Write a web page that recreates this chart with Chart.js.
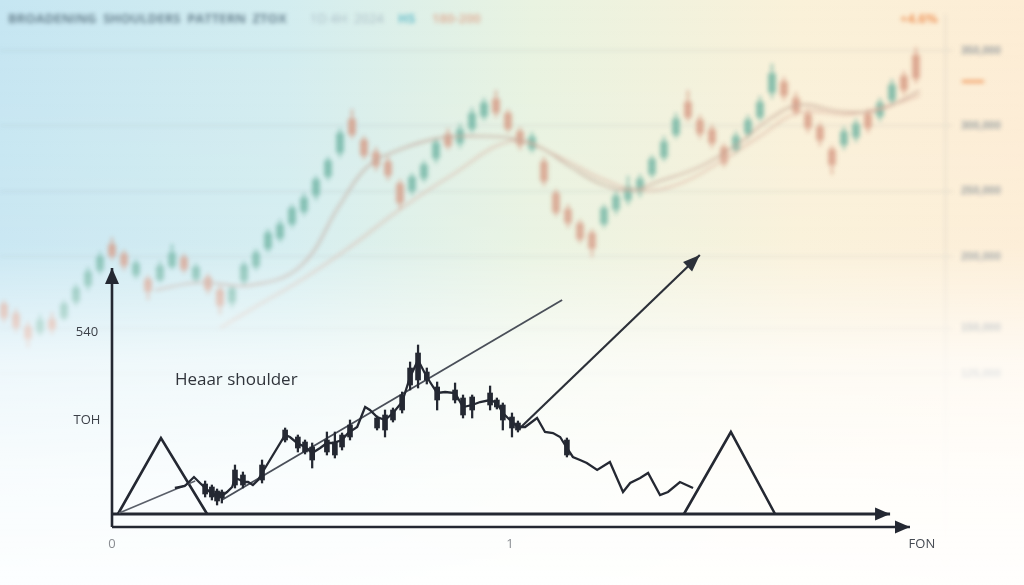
<!DOCTYPE html>
<html>
<head>
<meta charset="utf-8">
<title>Head and shoulder</title>
<script src="https://cdn.jsdelivr.net/npm/chart.js@4.4.1/dist/chart.umd.min.js"></script>
<style>
    html, body { margin: 0; padding: 0; }
    body {
        width: 1024px; height: 585px; overflow: hidden; position: relative;
        font-family: "Open Sans", "Noto Sans", sans-serif;
        background: linear-gradient(90deg, #c6e6f2 0%, #d3edf0 28%, #e9f3e1 52%, #faf1d9 78%, #fdedd5 100%);
    }
    canvas { position: absolute; left: 0; top: 0; }
    #bg { filter: blur(2.2px); opacity: 0.78; }
    #fade {
        position: absolute; left: 0; top: 0; width: 1024px; height: 585px;
        background: linear-gradient(180deg, rgba(255,255,255,0) 0%, rgba(255,255,255,0.08) 42%,
            rgba(255,255,255,0.7) 62%, rgba(255,255,255,0.88) 82%, rgba(255,255,255,0.95) 100%);
    }
    .blur { position: absolute; top: 9px; filter: blur(2px); font-weight: 700; font-size: 13px; white-space: nowrap; }
</style>
</head>
<body>
<canvas id="bg" width="1024" height="585"></canvas>
<div id="fade"></div>
<div class="blur" style="left:8px;color:#6d8794;">BROADENING&nbsp; SHOULDERS&nbsp; PATTERN&nbsp; ZTOX</div>
<div class="blur" style="left:310px;color:#a9bcc4;font-weight:400;">1D 4H&nbsp; 2024</div>
<div class="blur" style="left:398px;color:#6cc0cc;">HS</div>
<div class="blur" style="left:432px;color:#e0b9a4;">180-200</div>
<div class="blur" style="left:900px;color:#f09a62;">+4.6%</div>
<div class="blur" style="left:962px;top:80px;width:22px;height:3px;background:#f2a46e;"></div>
<canvas id="fg" width="1024" height="585"></canvas>
<script>
// background chart (blurred candles), index units / price units
const bgOpen  = [95,85,71,66,79,81,98,115,131,158,148,126,121,121,135,144,122,123,110,97,120,135,154,165,180,193,210,230,255,290,268,255,245,222,215,228,249,274,265,280,293,311,296,277,259,245,212,195,180,170,180,195,205,213,232,250,274,308,289,279,260,258,275,292,318,329,312,295,282,258,263,271,295,293,310,335,357];
const bgClose = [81,71,59,78,69,95,112,129,145,146,136,138,109,135,149,132,134,111,94,111,136,149,170,179,196,207,226,246,275,274,252,241,231,202,229,242,265,262,279,296,307,297,280,263,271,225,192,181,164,154,196,209,219,227,248,266,290,292,275,265,244,272,289,308,338,315,298,281,268,242,277,285,281,307,326,321,333];
const bgLow   = [76,66,50,62,64,78,94,110,127,142,131,122,100,118,132,128,118,106,85,92,116,131,150,161,176,189,205,226,250,270,248,236,226,196,210,224,244,258,260,276,289,292,276,258,255,220,188,176,160,145,176,190,200,208,228,246,270,288,270,260,240,254,270,288,312,310,294,276,262,232,258,266,276,288,305,316,328];
const bgHigh  = [99,90,76,84,86,99,116,134,150,165,152,142,125,140,158,148,138,127,114,115,140,153,174,184,200,212,230,250,280,300,272,260,250,226,233,246,270,280,285,302,312,320,300,281,276,250,216,200,184,174,200,214,230,232,252,272,296,320,294,284,264,277,294,314,348,334,318,300,286,262,282,290,300,312,332,340,365];
const ma1X = [12.6,16.3,20.5,24.7,28,30.3,33,36.3,39.7,42.2,44.7,47.2,49.7,52.2,54.7,58,61.3,63.8,66.3,69.7,73,76.3];
const ma1Y = [110,118,115,135,200,240,258,270,272,270,260,240,222,215,225,240,265,290,305,298,300,320];
const ma2X = [18,21.3,24.7,28.8,33,37.2,42.4,46.3,49.7,53,56.3,59.7,63,66.3,70.5,74.7,76.3];
const ma2Y = [70,95,120,155,195,230,267,250,228,215,222,245,272,297,295,308,315];
const bgTickValues = [362, 283, 214, 145, 70, 22];
const bgTickLabels = ['350,000', '300,000', '250,000', '200,000', '150,000', '125,000'];

// foreground pattern chart (x: 100 = label "1")
const priceX = [15.8,17.1,18.3,20.6,22.1,23.4,24.6,25.9,26.6,27.9,28.9,30.2,30.9,32.2,32.9,34.2,35.4,36.7,37.7,43.5,44.7,46.5,48.5,50.3,52.3,54.0,55.5,57.8,59.3,61.6,63.6,64.8,66.6,68.6,70.6,72.9,74.9,76.9,79.1,81.7,83.7,86.2,88.2,90.5,92.5,95.0,96.7,98.2,100.5,102.0,103.8,106.8,108.8,110.8,112.6,114.3,115.8,117.6,119.3,121.9,125.1,128.4,130.2,132.7,134.7,137.7,139.7,142.7,146.0];
const priceY = [26,27,28,37,31,26,22,19,16,19,22,27,36,34,32,32,29,34,41,79,77,71,67,61,66,71,71,74,81,87,107,104,97,94,101,112,137,154,137,121,122,121,107,109,112,114,111,101,92,87,87,96,82,81,77,66,57,54,51,44,52,22,31,36,41,19,22,32,26];
const candleX     = [23.4,25.1,26.4,27.6,30.9,32.9,37.7,43.5,46.7,48.5,50.3,54.0,56.0,57.8,59.8,66.6,68.6,70.6,72.9,74.9,76.9,79.1,81.7,86.2,88.2,90.5,95.0,96.7,98.2,100.5,102.0,114.3];
const candleOpen  = [20,17,13,16,29,29,34,74,66,62,54,62,59,67,77,86,84,94,104,129,134,134,114,114,99,104,109,107,94,86,84,59];
const candleClose = [30,27,23,22,44,39,49,84,77,72,67,74,72,79,89,96,99,104,119,146,161,142,127,124,116,117,121,114,109,97,91,74];
const candleLow   = [17,14,9,11,26,26,31,72,62,60,46,59,56,64,74,84,77,92,101,124,126,130,104,111,96,96,104,105,84,77,82,57];
const candleHigh  = [33,29,25,24,49,42,54,86,79,74,71,82,82,81,94,98,104,106,122,152,169,146,132,131,119,119,128,116,111,101,93,76];
const tri1X = [1.5, 12.3, 23.9], tri1Y = [0, 76, 0];
const tri2X = [143.7, 155.5, 166.6], tri2Y = [0, 82, 0];
const trendAX = [1.8, 20.9], trendAY = [1, 33];
const trendBX = [27.6, 113.1], trendBY = [14, 214];
const breakX = [102.0, 147.7], breakY = [84, 259];
const xTickValues = [0, 100, 203.5];
const xTickLabels = ['0', '1', 'FON'];
const yTickValues = [182, 94];
const yTickLabels = ['540', 'TOH'];

function pts(xs, ys) { return xs.map((x, i) => ({ x: x, y: ys[i] })); }

// BACKGROUND
const UP = '#62ad9b', DOWN = '#d3917a';
const bgColor = ctx => bgClose[ctx.dataIndex] >= bgOpen[ctx.dataIndex] ? UP : DOWN;

new Chart(document.getElementById('bg'), {
    type: 'bar',
    data: {
        datasets: [
            { type: 'line', data: pts(ma1X, ma1Y), borderColor: '#b88f80', borderWidth: 1.6, pointRadius: 0, tension: 0.4, order: 1 },
            { type: 'line', data: pts(ma2X, ma2Y), borderColor: '#d8a896', borderWidth: 1.6, pointRadius: 0, tension: 0.4, order: 2 },
            { data: bgOpen.map((o, i) => ({ x: i, y: [o, bgClose[i]] })), backgroundColor: bgColor, barThickness: 7, grouped: false, order: 3 },
            { data: bgLow.map((l, i) => ({ x: i, y: [l, bgHigh[i]] })), backgroundColor: bgColor, barThickness: 1.3, grouped: false, order: 4 }
        ]
    },
    options: {
        responsive: false, animation: false,
        layout: { padding: 0 },
        plugins: { legend: { display: false }, tooltip: { enabled: false } },
        scales: {
            x: { type: 'linear', display: false, offset: false, min: -1 / 3, max: 78.42 },
            y: {
                position: 'right', min: -185, max: 400,
                afterFit: s => { s.width = 79; },
                afterBuildTicks: s => { s.ticks = bgTickValues.map(v => ({ value: v })); },
                ticks: {
                    color: '#7a868f', font: { size: 11, weight: 'bold' }, padding: 8,
                    callback: v => bgTickLabels[bgTickValues.indexOf(v)]
                },
                grid: { color: 'rgba(130,145,155,0.35)', tickLength: 8 },
                border: { color: 'rgba(130,145,155,0.35)' }
            }
        }
    }
});

// FOREGROUND
const INK = '#242832';

const arrowHeads = {
    id: 'arrowHeads',
    afterDatasetsDraw(chart) {
        const ctx = chart.ctx;
        chart.data.datasets.forEach((ds, i) => {
            if (!ds.arrow) return;
            const p = chart.getDatasetMeta(i).data;
            const a = p[p.length - 2], b = p[p.length - 1];
            const ang = Math.atan2(b.y - a.y, b.x - a.x);
            ctx.save();
            ctx.translate(b.x, b.y);
            ctx.rotate(ang);
            ctx.beginPath();
            ctx.moveTo(0, 0);
            ctx.lineTo(-ds.arrow[0], -ds.arrow[1] / 2);
            ctx.lineTo(-ds.arrow[0], ds.arrow[1] / 2);
            ctx.closePath();
            ctx.fillStyle = ds.borderColor;
            ctx.fill();
            ctx.restore();
        });
    }
};

const axisText = {
    id: 'axisText',
    afterDraw(chart) {
        const { ctx, scales: { x, y } } = chart;
        ctx.save();
        ctx.textAlign = 'center';
        ctx.textBaseline = 'middle';
        ctx.font = '13px "Open Sans", sans-serif';
        xTickValues.forEach((v, i) => {
            ctx.fillStyle = i < 2 ? '#8a8d92' : '#454a52';
            ctx.fillText(xTickLabels[i], x.getPixelForValue(v), y.getPixelForValue(-30));
        });
        ctx.fillStyle = '#3c4048';
        yTickValues.forEach((v, i) => {
            ctx.fillText(yTickLabels[i], x.getPixelForValue(-6.3), y.getPixelForValue(v));
        });
        ctx.textAlign = 'left';
        ctx.font = '17px "Open Sans", sans-serif';
        ctx.fillStyle = '#30343b';
        ctx.fillText('Heaar shoulder', x.getPixelForValue(15.8), y.getPixelForValue(134));
        ctx.restore();
    }
};

const lineDs = (data, color, width, order, extra) => Object.assign({
    type: 'line', data: data, borderColor: color, borderWidth: width,
    pointRadius: 0, tension: 0, fill: false, order: order
}, extra || {});

new Chart(document.getElementById('fg'), {
    type: 'bar',
    data: {
        datasets: [
            lineDs(pts([0, 0], [-13, 246]), INK, 2.6, 20, { arrow: [16, 14] }),
            lineDs(pts([0, 195.5], [0, 0]), INK, 3, 21, { arrow: [15, 13] }),
            lineDs(pts([0, 200.5], [-13, -13]), INK, 2.6, 22, { arrow: [15, 13] }),
            lineDs(pts(tri1X, tri1Y), INK, 2.6, 10),
            lineDs(pts(tri2X, tri2Y), INK, 2.6, 11),
            lineDs(pts(trendAX, trendAY), '#5a5f69', 1.6, 8),
            lineDs(pts(trendBX, trendBY), '#4a4f59', 1.9, 7),
            lineDs(pts(breakX, breakY), '#2c3039', 2.2, 6, { arrow: [17, 13] }),
            lineDs(pts(priceX, priceY), INK, 2.3, 3),
            { data: candleOpen.map((o, i) => ({ x: candleX[i], y: [o, candleClose[i]] })), backgroundColor: INK, barThickness: 5, grouped: false, order: 1 },
            { data: candleLow.map((l, i) => ({ x: candleX[i], y: [l, candleHigh[i]] })), backgroundColor: INK, barThickness: 1.6, grouped: false, order: 2 }
        ]
    },
    options: {
        responsive: false, animation: false,
        layout: { padding: 0 },
        plugins: { legend: { display: false }, tooltip: { enabled: false } },
        scales: {
            x: { type: 'linear', display: false, offset: false, min: -28.14, max: 229.15 },
            y: { display: false, min: -71, max: 514 }
        }
    },
    plugins: [arrowHeads, axisText]
});
</script>
</body>
</html>
